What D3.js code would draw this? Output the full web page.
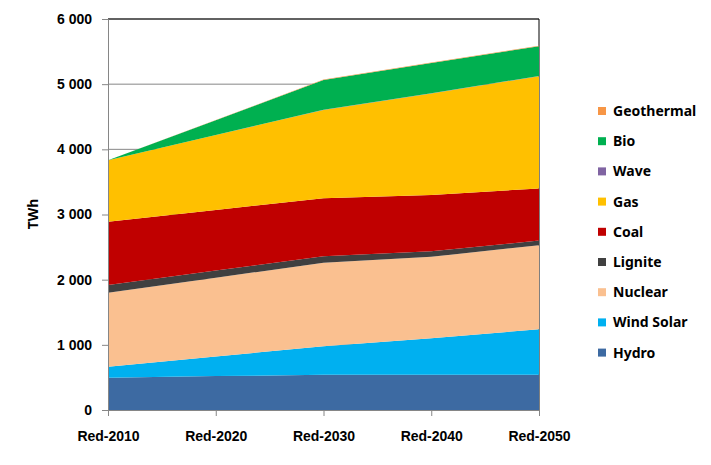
<!DOCTYPE html>
<html lang="en">
<head>
<meta charset="UTF-8" />
<title>TWh by source</title>
<script src="https://d3js.org/d3.v7.min.js"></script>
<style>
  body { margin: 0; background: #fff; font-family: "Noto Sans", sans-serif; }
  .lbl { font-weight: bold; font-size: 14px; fill: #000; }
</style>
</head>
<body>
<div id="chart"></div>
<script>
// categories and series (TWh)
const years = ["Red-2010", "Red-2020", "Red-2030", "Red-2040", "Red-2050"];
const series = ["Hydro", "Wind Solar", "Nuclear", "Lignite", "Coal", "Gas", "Wave", "Bio", "Geothermal"];
const hydro      = [495, 520, 540, 540, 540];
const windSolar  = [170, 300, 440, 560, 700];
const nuclear    = [1135, 1210, 1280, 1250, 1290];
const lignite    = [120, 110, 100, 85, 70];
const coal       = [968, 930, 890, 865, 800];
const gas        = [946, 1150, 1355, 1557, 1723];
const wave       = [0, 0, 3, 3, 3];
const bio        = [0, 226, 455, 465, 455];
const geothermal = [0, 4, 8, 8, 8];
const yTicks = [0, 1000, 2000, 3000, 4000, 5000, 6000];
const colors = ["#3d6aa2", "#00b0f0", "#fac090", "#404040", "#c00000", "#ffc000", "#8064a2", "#00b050", "#f79646"];

const values = [hydro, windSolar, nuclear, lignite, coal, gas, wave, bio, geothermal];
const rows = years.map((y, i) => {
  const r = { year: y };
  series.forEach((s, k) => r[s] = values[k][i]);
  return r;
});

const W = 711, H = 465;
const margin = { top: 19, right: 172, bottom: 55, left: 108 };
const width = W - margin.left - margin.right,
      height = H - margin.top - margin.bottom;

const svg = d3.select("#chart").append("svg")
  .attr("width", W).attr("height", H);
const g = svg.append("g")
  .attr("transform", "translate(" + margin.left + "," + margin.top + ")");

const x = d3.scalePoint().domain(years).range([0, width]);
const y = d3.scaleLinear().domain([0, 6000]).range([height, 0]);

// gridlines
g.append("g").selectAll("line").data(yTicks).join("line")
  .attr("x1", 0).attr("x2", width)
  .attr("y1", d => y(d)).attr("y2", d => y(d))
  .attr("stroke", "#868686").attr("stroke-width", 1);

// plot border top/right
g.append("path")
  .attr("d", "M0," + y(6000) + "H" + width + "V" + height)
  .attr("fill", "none").attr("stroke", "#000").attr("stroke-width", 1);

const stacked = d3.stack().keys(series)(rows);
const area = d3.area()
  .x(d => x(d.data.year))
  .y0(d => y(d[0]))
  .y1(d => y(d[1]));

g.append("g").selectAll("path").data(stacked).join("path")
  .attr("d", area)
  .attr("fill", (d, i) => colors[i]);

// axes
const yAxis = g.append("g")
  .call(d3.axisLeft(y).tickValues(yTicks).tickSize(6).tickPadding(10)
    .tickFormat(d => d3.format(",")(d).replace(",", " ")));
yAxis.select(".domain").attr("stroke", "#868686");
yAxis.selectAll(".tick line").attr("stroke", "#868686");
yAxis.selectAll("text").attr("class", "lbl");

const xAxis = g.append("g")
  .attr("transform", "translate(0," + height + ")")
  .call(d3.axisBottom(x).tickSize(6).tickSizeOuter(0).tickPadding(15));
xAxis.select(".domain").attr("stroke", "#868686");
xAxis.selectAll(".tick line").attr("stroke", "#868686");
xAxis.selectAll("text").attr("class", "lbl");

// y title
svg.append("text")
  .attr("class", "lbl")
  .attr("transform", "translate(38,214) rotate(-90)")
  .attr("text-anchor", "middle")
  .text("TWh");

// legend (top to bottom reversed)
const legend = svg.append("g").attr("transform", "translate(598,111)");
const legItems = series.map((s, i) => ({ name: s, color: colors[i] })).reverse();
const li = legend.selectAll("g").data(legItems).join("g")
  .attr("transform", (d, i) => "translate(0," + i * 30.2 + ")");
li.append("rect").attr("x", 0).attr("y", -4).attr("width", 8).attr("height", 8)
  .attr("fill", d => d.color);
li.append("text").attr("x", 15).attr("y", 0).attr("dy", "0.35em")
  .style("font-size", "14px").style("font-weight", "bold")
  .text(d => d.name);
</script>
</body>
</html>
